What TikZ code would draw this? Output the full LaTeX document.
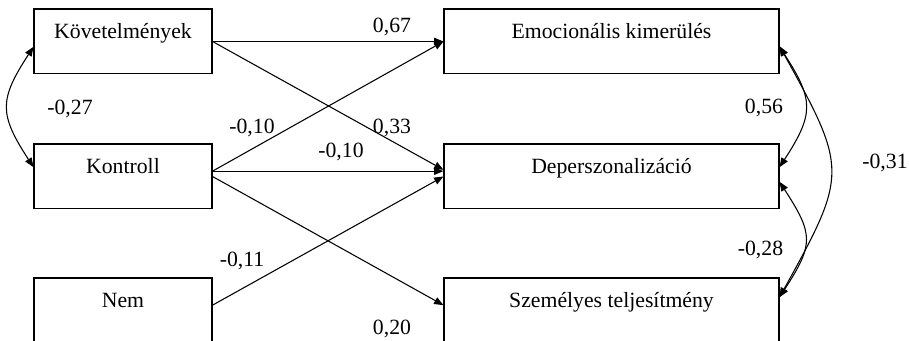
\documentclass[tikz,border=0pt]{standalone}
\usepackage{fontspec}
\setmainfont{Liberation Serif}
\usetikzlibrary{arrows.meta}
\tikzstyle{var} = [draw,rectangle,line width=0.8pt,inner sep=0pt,
  text height=22.1pt,text depth=26.6pt,font=\fontsize{16.3}{19}\selectfont]

\begin{document}
\begin{tikzpicture}[x=0.75pt, y=0.75pt,
        coef/.style={font=\fontsize{16.3}{19}\selectfont, inner sep=0pt},
        eff/.style={-{Triangle[length=7pt,width=5.5pt]}, line width=0.8pt},
        cov/.style={{Triangle[length=7pt,width=5.5pt]}-{Triangle[length=7pt,width=5.5pt]}, line width=0.8pt}]

        \useasboundingbox (0,0) rectangle (909,341);
        \clip (0,0) rectangle (909,341);

        % predictors
        \node[var, minimum width=133.5pt] (kov) at (123,299.5) {Követelmények};
        \node[var, minimum width=133.5pt] (kontroll) at (123,164.5) {Kontroll};
        \node[var, minimum width=133.5pt] (nem) at (123,30.5) {Nem};

        % outcomes
        \node[var, minimum width=251.25pt] (emo) at (611.5,299.5) {Emocionális kimerülés};
        \node[var, minimum width=251.25pt] (dep) at (611.5,164.5) {Deperszonalizáció};
        \node[var, minimum width=251.25pt] (szem) at (611.5,30.5) {Személyes teljesítmény};

        % paths
        \draw[eff] (kov.east) -- (emo.west);
        \draw[eff] (kov.east) -- ([yshift=5pt]dep.west);
        \draw[eff] ([yshift=4pt]kontroll.east) -- (emo.west);
        \draw[eff] ([yshift=4pt]kontroll.east) -- ([yshift=4pt]dep.west);
        \draw[eff] (kontroll.east) -- ([yshift=4pt]szem.west);
        \draw[eff] ([yshift=4pt]nem.east) -- (dep.west);

        % correlations
        \draw[cov] ([yshift=-4pt]kov.west) to[out=237, in=123, looseness=1.35] ([yshift=7pt]kontroll.west);
        \draw[cov] ([yshift=-4pt]emo.east) to[out=-57, in=57, looseness=1.35] ([yshift=7pt]dep.east);
        \draw[cov] ([yshift=-4pt]dep.east) to[out=-57, in=57, looseness=1.4] ([yshift=10pt]szem.east);
        \draw[cov] ([yshift=-3.5pt]emo.east) to[out=-61, in=61, looseness=1.44] ([yshift=10pt]szem.east);

        % coefficients
        \node[coef] (b1) at (392,314) {0,67};
        \node[coef] (b2) at (392,213) {0,33};
        \node[coef] (b3) at (252,213) {-0,10};
        \node[coef] (b4) at (341,189) {-0,10};
        \node[coef] (b5) at (242,80) {-0,11};
        \node[coef] (b6) at (392,12) {0,20};
        \node[coef] (r1) at (70,232) {-0,27};
        \node[coef] (r2) at (764,233.5) {0,56};
        \node[coef] (r3) at (760.5,91) {-0,28};
        \node[coef] (r4) at (885,178) {-0,31};

      \end{tikzpicture}
\end{document}
